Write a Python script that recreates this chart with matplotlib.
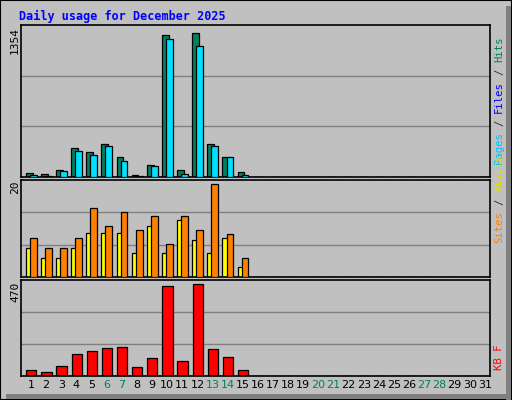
import matplotlib
matplotlib.use("Agg")
import matplotlib.pyplot as plt
from matplotlib.patches import Rectangle
import numpy as np

days = list(range(1, 32))
hits  = [36, 27, 63, 270, 233, 305, 188, 18, 108, 1300, 63, 1320, 305, 188, 45] + [0]*16
files = [21, 6, 54, 242, 206, 287, 143, 9, 99, 1264, 27, 1200, 287, 179, 21] + [0]*16
sites = [6, 4, 4, 6, 9, 9, 9, 5, 10.6, 5, 11.7, 7.7, 5, 8, 2] + [0]*16
visits = [8, 6, 6, 8, 14.3, 10.6, 13.5, 9.6, 12.5, 6.9, 12.5, 9.6, 19.1, 8.8, 4] + [0]*16
kbytes = [31, 21, 51, 110, 120, 135, 140, 46, 86, 442, 71, 452, 130, 91, 31] + [0]*16
weekends = [6, 7, 13, 14, 20, 21, 27, 28]
max_hits, max_visits, max_kb = 1354, 20, 470

W, H = 512, 400
fig = plt.figure(figsize=(5.12, 4.0), dpi=100)
fig.patch.set_facecolor("#C0C0C0")
fig.add_artist(Rectangle((0, 0), 1, 1, transform=fig.transFigure, fill=False, ec="black", lw=1.5))
fig.add_artist(Rectangle((506/W, 0), 5/W, 1 - 6/H, transform=fig.transFigure, fc="#808080", ec="none"))
fig.add_artist(Rectangle((6/W, 1/H), 1 - 7/W, 5/H, transform=fig.transFigure, fc="#808080", ec="none"))

def ax_at(top, bot):
    a = fig.add_axes([21/W, 1 - bot/H, (490-21)/W, (bot-top)/H])
    a.set_facecolor("#C0C0C0")
    a.set_xlim(0.34, 31.34)
    a.set_xticks([]); a.set_yticks([])
    for s in a.spines.values():
        s.set_color("black"); s.set_linewidth(1.2)
    return a

mono = "DejaVu Sans Mono"
x = np.array(days)

a1 = ax_at(25, 177)
a1.set_ylim(0, max_hits * 1.03)
for g in (max_hits*1.03/3, 2*max_hits*1.03/3):
    a1.axhline(g, color="#808080", lw=1, zorder=0)
a1.bar(x - 0.12, hits, width=0.45, color="#007F5F", ec="black", lw=0.9, zorder=2)
a1.bar(x + 0.15, files, width=0.45, color="#00E0FF", ec="black", lw=0.9, zorder=3)

a2 = ax_at(180, 277)
a2.set_ylim(0, max_visits)
for g in (max_visits/3, 2*max_visits/3):
    a2.axhline(g, color="#808080", lw=1, zorder=0)
a2.bar(x - 0.12, sites, width=0.45, color="#FFFF00", ec="black", lw=0.9, zorder=2)
a2.bar(x + 0.15, visits, width=0.45, color="#FF8000", ec="black", lw=0.9, zorder=3)

a3 = ax_at(280, 376)
a3.set_ylim(0, max_kb)
for g in (max_kb/3, 2*max_kb/3):
    a3.axhline(g, color="#808080", lw=1, zorder=0)
a3.bar(x + 0.02, kbytes, width=0.68, color="#FF0000", ec="black", lw=0.9, zorder=2)

for d in days:
    a3.text(d, -0.04, str(d), transform=a3.get_xaxis_transform(), ha="center", va="top",
            fontsize=8, family="DejaVu Sans",
            color="#00805C" if d in weekends else "black")

fig.text(19/W, 1 - 16/H, "Daily usage for December 2025", color="#0000FF",
         fontsize=8.5, fontweight="bold", family=mono, va="center")

for txt, ytop in (("1354", 27), ("20", 181), ("470", 282)):
    fig.text(15/W, 1 - ytop/H, txt, rotation=90, ha="center", va="top", fontsize=8, family=mono)

FS = 7.6
def vlabel(parts, ybottom):
    text = "".join(t for t, _ in parts)
    cw = 0.602 * FS * 100 / 72
    y = ybottom
    for t, c in parts:
        s = t.strip()
        lead = len(t) - len(t.lstrip())
        fig.text(499/W, 1 - (y - lead*cw)/H, s, rotation=90, ha="center", va="bottom",
                 fontsize=FS, family=mono, color=c)
        y -= cw * len(t)

vlabel([("Pages", "#00C0FF"), (" / ", "#303030"), ("Files", "#0000FF"), (" / ", "#303030"), ("Hits", "#00805C")], 164)
vlabel([("Sites", "#FF8000"), (" / ", "#303030"), ("Visits", "#E0E000")], 243)
vlabel([("KB F", "#FF0000")], 370)

fig.savefig("out.png", dpi=100, facecolor=fig.get_facecolor())
